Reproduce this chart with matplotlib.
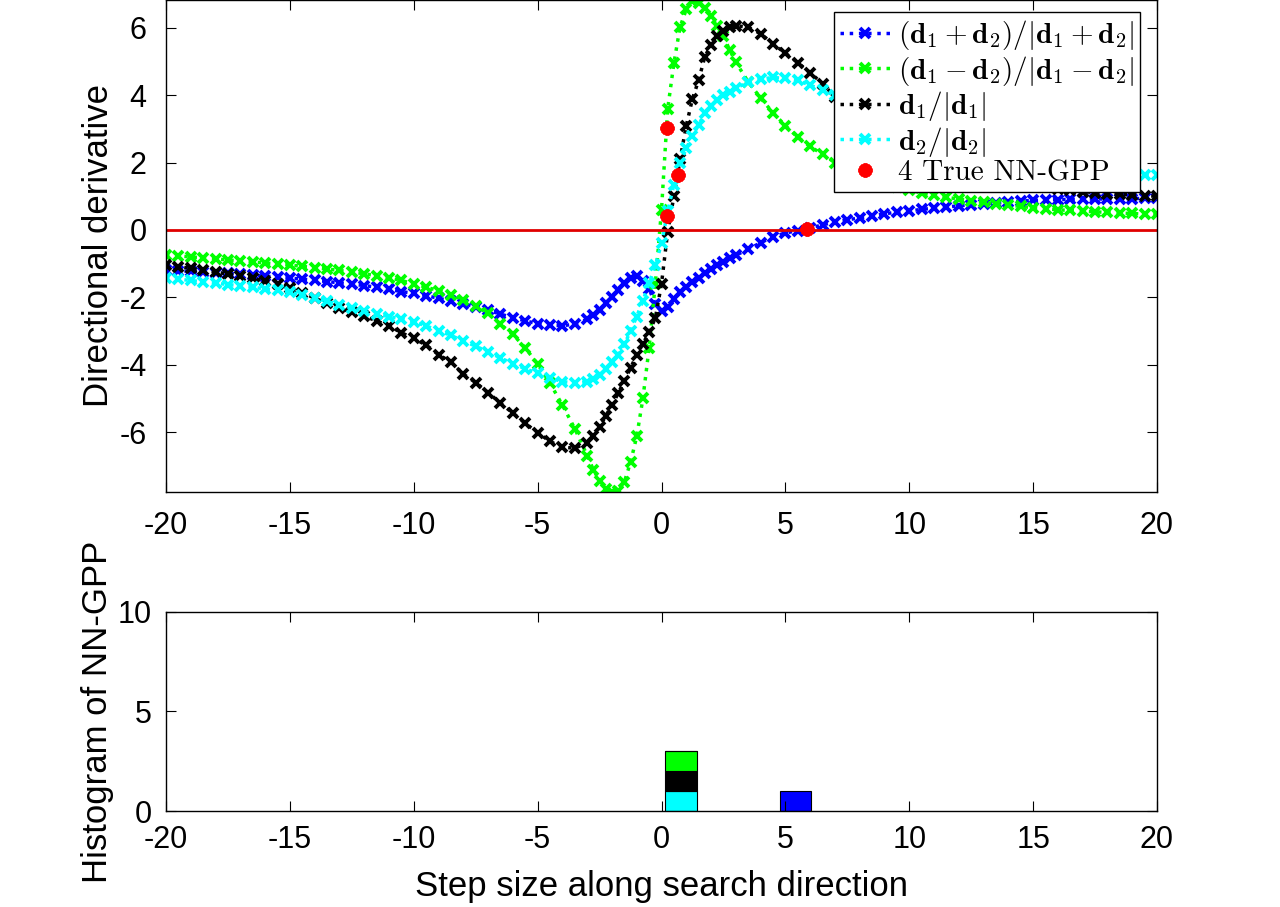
import matplotlib
matplotlib.use('Agg')
import matplotlib.pyplot as plt
import numpy as np

# step sizes: 0.5 in the tails, 0.25 around the zero crossing
x_left = np.arange(-20, -3.25, 0.5)
x_mid = np.arange(-3, 3.01, 0.25)
x_right = np.arange(3.5, 20.01, 0.5)
step = np.concatenate([x_left, x_mid, x_right])

# (d1+d2)/|d1+d2|
dd_sum = [-1.19, -1.21, -1.23, -1.25, -1.27, -1.29, -1.31, -1.34, -1.37, -1.40,
          -1.43, -1.46, -1.50, -1.53, -1.57, -1.61, -1.65, -1.70, -1.76, -1.83,
          -1.88, -1.95, -2.03, -2.10, -2.19, -2.28, -2.38, -2.50, -2.60, -2.70,
          -2.78, -2.83, -2.84, -2.80,
          -2.65, -2.52, -2.37, -2.18, -1.98, -1.78, -1.57, -1.42, -1.36, -1.52,
          -1.75, -2.20, -2.42, -2.30, -2.06, -1.85, -1.68, -1.55, -1.42, -1.28,
          -1.15, -1.04, -0.94, -0.84, -0.75,
          -0.57, -0.38, -0.20, -0.09, -0.02, 0.06, 0.15, 0.24, 0.30, 0.36,
          0.42, 0.48, 0.53, 0.57, 0.61, 0.65, 0.68, 0.72, 0.75, 0.78,
          0.80, 0.83, 0.86, 0.88, 0.89, 0.90, 0.91, 0.91, 0.92, 0.92,
          0.93, 0.93, 0.94, 0.94]

# (d1-d2)/|d1-d2|
dd_diff = [-0.74, -0.77, -0.80, -0.83, -0.86, -0.89, -0.92, -0.95, -0.98, -1.01,
           -1.04, -1.08, -1.12, -1.16, -1.20, -1.25, -1.30, -1.36, -1.42, -1.50,
           -1.60, -1.70, -1.80, -1.92, -2.07, -2.25, -2.48, -2.80, -3.10, -3.50,
           -3.98, -4.55, -5.20, -5.90,
           -6.70, -7.12, -7.45, -7.68, -7.78, -7.75, -7.48, -6.90, -6.13, -5.00,
           -3.50, -1.60, 0.60, 3.60, 4.95, 6.03, 6.55, 6.80, 6.75, 6.58,
           6.35, 6.05, 5.75, 5.35, 4.98,
           4.40, 3.92, 3.48, 3.10, 2.75, 2.48, 2.25, 2.00, 1.80, 1.64,
           1.50, 1.38, 1.28, 1.18, 1.10, 1.03, 0.97, 0.92, 0.87, 0.82,
           0.78, 0.74, 0.70, 0.66, 0.63, 0.60, 0.58, 0.56, 0.54, 0.52,
           0.50, 0.49, 0.47, 0.46]

# d1/|d1|
dd_1 = [-1.04, -1.09, -1.14, -1.19, -1.25, -1.31, -1.37, -1.44, -1.51, -1.59,
        -1.72, -1.87, -2.02, -2.18, -2.33, -2.44, -2.56, -2.70, -2.85, -3.05,
        -3.22, -3.42, -3.70, -3.92, -4.28, -4.53, -4.83, -5.14, -5.44, -5.74,
        -6.02, -6.28, -6.45, -6.48,
        -6.32, -6.12, -5.85, -5.52, -5.20, -4.85, -4.48, -4.10, -3.71, -3.38,
        -3.03, -2.62, -1.60, -0.05, 1.00, 2.10, 3.10, 3.90, 4.45, 5.15,
        5.50, 5.75, 5.92, 6.02, 6.07,
        6.02, 5.83, 5.53, 5.25, 4.97, 4.67, 4.35, 3.95, 3.58, 3.28,
        3.02, 2.80, 2.60, 2.42, 2.25, 2.10, 1.96, 1.84, 1.73, 1.63,
        1.54, 1.46, 1.39, 1.33, 1.27, 1.22, 1.18, 1.14, 1.11, 1.08,
        1.06, 1.04, 1.02, 1.00]

# d2/|d2|
dd_2 = [-1.43, -1.46, -1.50, -1.54, -1.58, -1.62, -1.66, -1.70, -1.75, -1.79,
        -1.84, -1.94, -2.02, -2.12, -2.22, -2.32, -2.42, -2.50, -2.57, -2.64,
        -2.73, -2.85, -2.99, -3.13, -3.30, -3.45, -3.62, -3.80, -3.97, -4.12,
        -4.26, -4.40, -4.50, -4.55,
        -4.50, -4.42, -4.30, -4.12, -3.92, -3.70, -3.40, -3.00, -2.57, -2.10,
        -1.58, -1.05, -0.40, 0.55, 1.35, 1.98, 2.42, 2.80, 3.12, 3.48,
        3.68, 3.85, 4.00, 4.10, 4.22,
        4.38, 4.48, 4.53, 4.50, 4.44, 4.30, 4.16, 4.00, 3.82, 3.62,
        3.44, 3.26, 3.10, 2.94, 2.80, 2.66, 2.54, 2.43, 2.32, 2.23,
        2.14, 2.06, 1.99, 1.92, 1.86, 1.81, 1.76, 1.72, 1.69, 1.67,
        1.65, 1.64, 1.63, 1.62]

# true NN-GPP locations
gpp_x = [0.21, 0.65, 0.23, 5.86]
gpp_y = [3.04, 1.63, 0.42, 0.04]

# histogram bins (stacked counts per direction)
bin_centers = [0.78, 5.40]
bin_width = 1.27
count_d2 = [1, 0]
count_d1 = [1, 0]
count_diff = [1, 0]
count_sum = [0, 1]

plt.rcParams['font.family'] = 'Liberation Sans'
plt.rcParams['mathtext.fontset'] = 'cm'
plt.rcParams['xtick.direction'] = 'in'
plt.rcParams['ytick.direction'] = 'in'
plt.rcParams['xtick.top'] = True
plt.rcParams['ytick.right'] = True

fig = plt.figure(figsize=(12.8, 9.07), dpi=100)
ax1 = fig.add_axes([0.1297, 0.4576, 0.7742, 0.5424])
ax2 = fig.add_axes([0.1297, 0.1058, 0.7742, 0.2195])

styles = dict(linestyle=':', linewidth=2.5, marker='x', markersize=7, markeredgewidth=2.8)
ax1.plot(step, dd_sum, color='#0000ff', label=r'$(\mathbf{d}_1+\mathbf{d}_2)/|\mathbf{d}_1+\mathbf{d}_2|$', **styles)
ax1.plot(step, dd_diff, color='#00ff00', label=r'$(\mathbf{d}_1-\mathbf{d}_2)/|\mathbf{d}_1-\mathbf{d}_2|$', **styles)
ax1.plot(step, dd_1, color='black', label=r'$\mathbf{d}_1/|\mathbf{d}_1|$', **styles)
ax1.plot(step, dd_2, color='#00ffff', label=r'$\mathbf{d}_2/|\mathbf{d}_2|$', **styles)
ax1.axhline(0, color='#e00000', linewidth=2)
ax1.plot(gpp_x, gpp_y, linestyle='none', marker=(8, 2, 0), markersize=10,
         markeredgewidth=3, color='red', label='4 True NN-GPP', zorder=5)

ax1.set_xlim(-20, 20)
ax1.set_ylim(-7.78, 6.83)
ax1.set_xticks(np.arange(-20, 21, 5))
ax1.set_yticks([-6, -4, -2, 0, 2, 4, 6])
ax1.tick_params(labelsize=22, length=7, pad=14)
ax1.set_ylabel('Directional derivative', fontsize=25, labelpad=3)
leg = ax1.legend(loc='upper right', prop={'family': 'cmr10', 'size': 21},
                 fancybox=False, framealpha=1, edgecolor='black',
                 bbox_to_anchor=(0.983, 0.975), borderaxespad=0,
                 labelspacing=0.05, handlelength=1.7,
                 handletextpad=0.3, borderpad=0.2)
leg.get_frame().set_linewidth(1)

bottom = np.zeros(len(bin_centers))
for counts, col in [(count_d2, '#00ffff'), (count_d1, 'black'),
                    (count_diff, '#00ff00'), (count_sum, '#0000ff')]:
    ax2.bar(bin_centers, counts, width=bin_width, bottom=bottom, color=col,
            edgecolor='black', linewidth=0.8)
    bottom = bottom + np.array(counts)

ax2.set_xlim(-20, 20)
ax2.set_ylim(0, 10)
ax2.set_xticks(np.arange(-20, 21, 5))
ax2.set_yticks([0, 5, 10])
ax2.tick_params(labelsize=22, length=7, pad=10)
ax2.set_ylabel('Histogram of NN-GPP', fontsize=25, labelpad=3)
ax2.set_xlabel('Step size along search direction', fontsize=25, labelpad=11)

for ax in (ax1, ax2):
    for sp in ax.spines.values():
        sp.set_linewidth(1)
    ax.xaxis.set_major_formatter(matplotlib.ticker.FuncFormatter(lambda v, p: '%g' % v))
    ax.yaxis.set_major_formatter(matplotlib.ticker.FuncFormatter(lambda v, p: '%g' % v))

fig.savefig('out.png', dpi=100)
